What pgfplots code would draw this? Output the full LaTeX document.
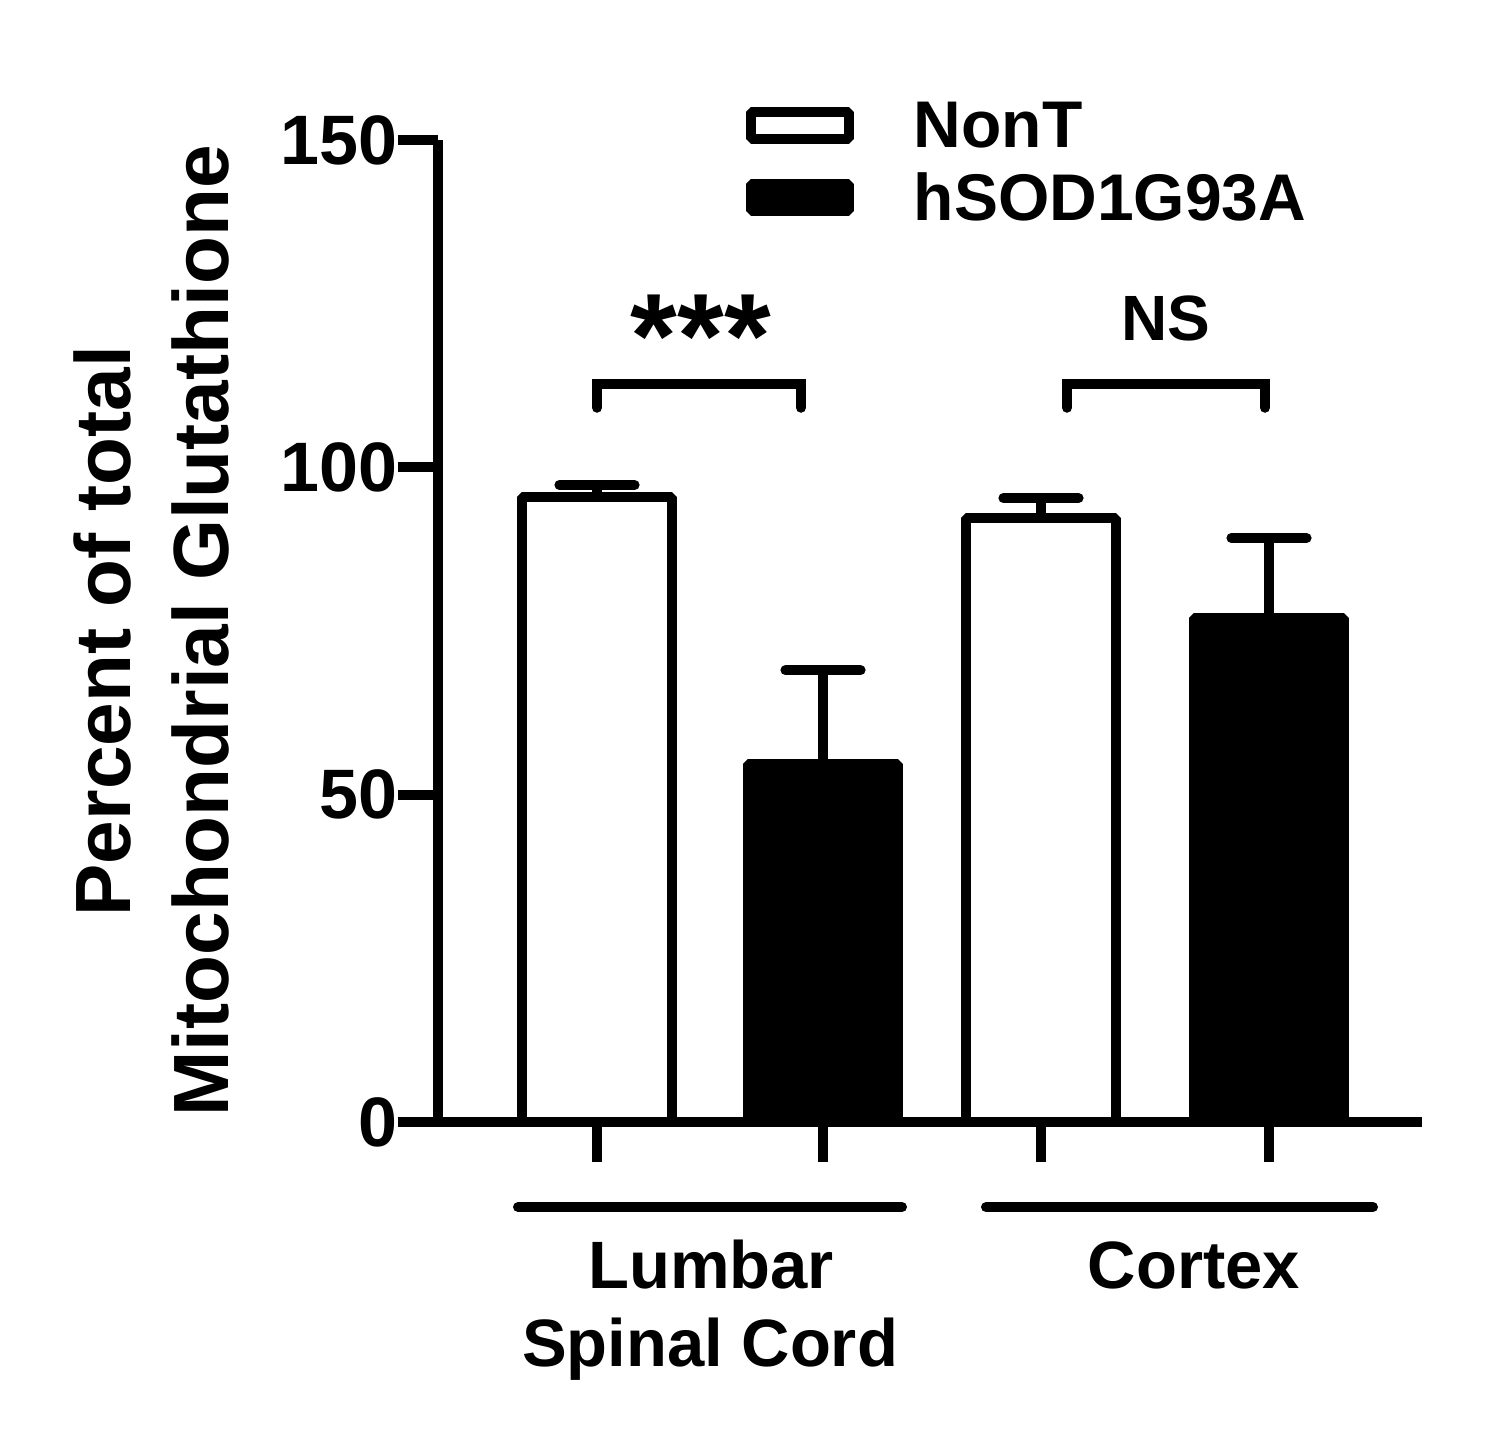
\documentclass[border=0pt]{standalone}
\usepackage{fontspec}
\setmainfont{Liberation Sans}
\usepackage{pgfplots}
\pgfplotsset{compat=1.18}
\begin{document}
\begin{tikzpicture}
\path[use as bounding box] (-109.5pt,-83pt) rectangle (267pt,280.5pt);
\begin{axis}[
  at={(0,0)}, anchor=south west,
  width=246pt, height=245.5pt, scale only axis,
  xmin=438, xmax=1422, ymin=0, ymax=150,
  axis lines=left,
  axis line style={line width=2.5pt, -, black},
  ytick={0,50,100,150},
  xtick={597,823,1041,1269}, xticklabels={,,,},
  tick align=outside, major tick length=10pt,
  tick style={line width=2.5pt, black},
  /pgf/number format/assume math mode=true,
  yticklabel style={font=\bfseries\fontsize{17.5}{20}\selectfont, inner xsep=0pt},
  every axis y label/.style={at={(axis description cs:0,0.5)}, xshift=-52pt, rotate=90, anchor=south, align=center, inner sep=0pt, font=\bfseries\fontsize{19.6}{24.6}\selectfont},
  ylabel={Percent of total\\Mitochondrial Glutathione},
  ybar, bar width=150,
  clip=false,
  legend cell align=left,
  legend style={at={(axis cs:745,157.2)}, anchor=north west, draw=none, fill=none, inner sep=0pt, font=\bfseries\fontsize{16.5}{20}\selectfont, column sep=13pt, row sep=1pt},
  error bars/y dir=plus, error bars/y explicit,
  error bars/error bar style={line width=2.5pt, black},
  error bars/error mark options={rotate=90, mark size=9.4pt, line width=2.5pt, line cap=round, black},
]
\addplot[bar shift=0pt, draw=black, fill=white, line width=2.5pt, line join=bevel,
  legend image code/.code={\draw[draw=black, fill=white, line width=2.5pt, line join=bevel] (0pt,-2.875pt) rectangle (24.5pt,3.875pt);}]
  coordinates {(597,95.5) +- (0,1.8) (1041,92.3) +- (0,3.0)};
\addlegendentry{NonT}
\addplot[bar shift=0pt, draw=black, fill=black, line width=2.5pt, line join=bevel,
  legend image code/.code={\draw[draw=black, fill=black, line width=2.5pt, line join=bevel] (0pt,-2.875pt) rectangle (24.5pt,3.875pt);}]
  coordinates {(823,54.7) +- (0,14.3) (1269,77.0) +- (0,12.2)};
\addlegendentry{hSOD1G93A}
% significance brackets
\draw[line width=2.5pt, line cap=round, line join=miter] (axis cs:597,109.1) -- (axis cs:597,112.7) -- (axis cs:801,112.7) -- (axis cs:801,109.1);
\draw[line width=2.5pt, line cap=round, line join=miter] (axis cs:1067,109.1) -- (axis cs:1067,112.7) -- (axis cs:1265,112.7) -- (axis cs:1265,109.1);
\node[font=\bfseries\fontsize{30}{36}\selectfont, inner sep=0pt] at (axis cs:701,120.1) {***};
\node[font=\bfseries\fontsize{16}{20}\selectfont, inner sep=0pt, anchor=base] at (axis cs:1166,119.4) {NS};
% group lines and labels
\draw[line width=2.5pt, line cap=round] (axis cs:518,-13.0) -- (axis cs:902,-13.0);
\draw[line width=2.5pt, line cap=round] (axis cs:986,-13.0) -- (axis cs:1373,-13.0);
\node[font=\bfseries\fontsize{16.75}{20}\selectfont, inner sep=0pt, anchor=base] at (axis cs:711,-25.4) {Lumbar};
\node[font=\bfseries\fontsize{16.75}{20}\selectfont, inner sep=0pt, anchor=base] at (axis cs:710,-37.4) {Spinal Cord};
\node[font=\bfseries\fontsize{16.75}{20}\selectfont, inner sep=0pt, anchor=base] at (axis cs:1194,-25.4) {Cortex};
\end{axis}
\end{tikzpicture}
\end{document}
